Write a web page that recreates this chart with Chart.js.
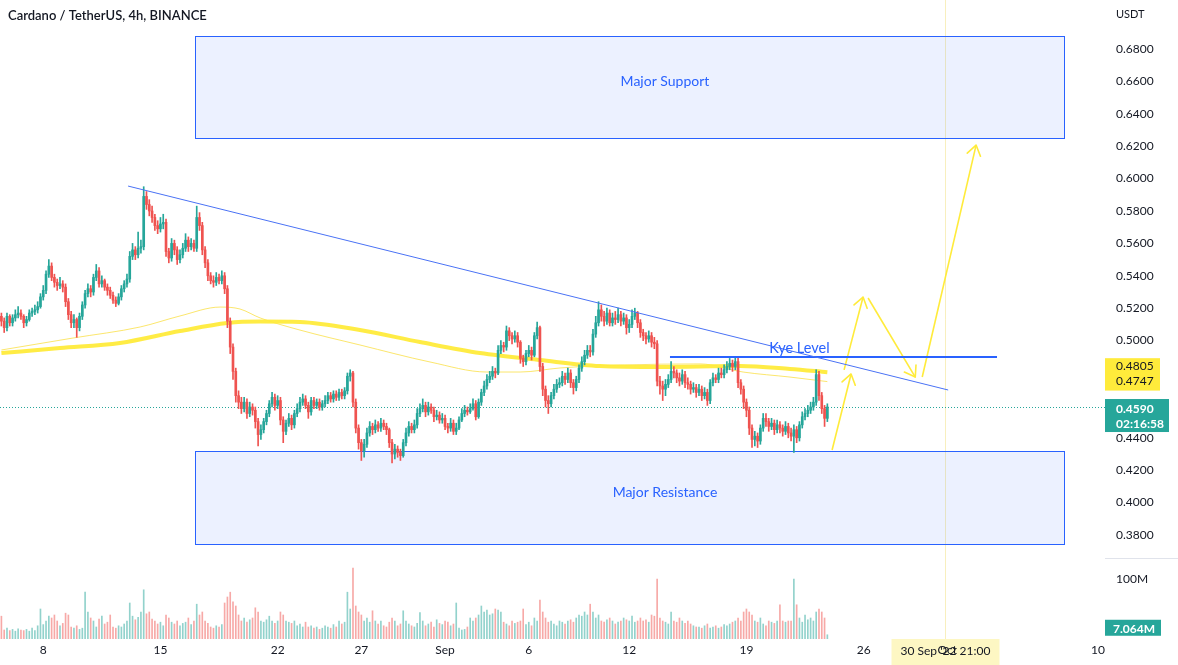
<!DOCTYPE html>
<html><head><meta charset="utf-8"><title>Cardano / TetherUS, 4h</title>
<script src="https://cdn.jsdelivr.net/npm/chart.js@4.4.1/dist/chart.umd.min.js"></script>
<style>
html,body{margin:0;padding:0;background:#ffffff;overflow:hidden}
#c{display:block}
</style></head><body>
<canvas id="c" width="1178" height="665"></canvas>
<script>
// ---------------- DATA ----------------
const firstOpen = 0.515;
const closes = [
.512,.508,.515,.511,.514,.516,.517,.515,.511,.513,
.517,.518,.519,.521,.527,.531,.541,.546,.539,.536,
.534,.535,.533,.524,.516,.511,.513,.508,.515,.522,
.529,.532,.530,.539,.543,.535,.537,.533,.531,.528,
.525,.523,.527,.532,.535,.538,.552,.556,.553,.557,
.558,.589,.584,.580,.576,.571,.569,.572,.573,.555,
.551,.560,.556,.550,.553,.557,.562,.558,.560,.557,
.576,.571,.556,.548,.540,.537,.536,.539,.537,.540,
.532,.512,.496,.481,.466,.462,.458,.462,.455,.459,
.457,.450,.442,.445,.450,.455,.461,.465,.460,.463,
.451,.444,.449,.452,.448,.455,.458,.462,.464,.460,
.456,.463,.460,.462,.459,.461,.463,.466,.464,.467,
.465,.468,.466,.469,.478,.480,.462,.446,.437,.432,
.436,.443,.447,.445,.448,.446,.449,.447,.445,.437,
.430,.433,.431,.429,.437,.443,.447,.445,.448,.455,
.458,.460,.456,.459,.457,.453,.454,.451,.452,.447,
.446,.449,.444,.446,.451,.455,.457,.456,.458,.461,
.453,.462,.468,.472,.476,.478,.481,.480,.494,.497,
.496,.506,.503,.501,.503,.499,.489,.487,.492,.494,
.491,.503,.508,.484,.470,.463,.461,.466,.470,.473,
.474,.478,.476,.480,.474,.471,.476,.483,.487,.491,
.494,.493,.504,.511,.519,.515,.512,.517,.511,.514,
.513,.516,.512,.514,.508,.510,.515,.517,.511,.505,
.503,.501,.503,.499,.498,.475,.472,.470,.473,.476,
.481,.480,.477,.475,.479,.474,.473,.470,.471,.468,
.470,.466,.468,.463,.474,.477,.476,.480,.479,.482,
.484,.486,.484,.487,.474,.470,.462,.457,.446,.439,
.441,.438,.446,.452,.450,.447,.449,.445,.448,.446,
.444,.447,.443,.441,.445,.440,.448,.453,.455,.457,
.459,.462,.479,.466,.458,.452,.459];
const highs = [
.517,.514,.517,.516,.516,.519,.521,.519,.516,.515,
.519,.520,.522,.524,.529,.534,.543,.550,.548,.541,
.538,.539,.537,.535,.526,.518,.516,.514,.517,.524,
.531,.535,.534,.541,.547,.545,.540,.538,.535,.533,
.530,.527,.529,.534,.537,.541,.555,.560,.558,.567,
.562,.595,.592,.587,.583,.578,.574,.576,.578,.575,
.557,.563,.562,.558,.556,.560,.566,.564,.563,.562,
.583,.579,.573,.558,.550,.542,.540,.542,.541,.543,
.542,.534,.514,.498,.483,.469,.465,.465,.464,.462,
.461,.459,.452,.448,.452,.457,.463,.468,.467,.466,
.465,.453,.451,.455,.454,.457,.461,.465,.467,.466,
.462,.465,.465,.464,.464,.463,.466,.468,.468,.469,
.469,.470,.470,.471,.480,.482,.481,.464,.448,.439,
.439,.446,.450,.449,.451,.450,.452,.451,.449,.446,
.439,.436,.435,.433,.439,.446,.450,.449,.451,.458,
.461,.464,.462,.462,.461,.459,.457,.456,.455,.454,
.449,.452,.451,.449,.453,.458,.460,.459,.461,.464,
.463,.464,.470,.475,.479,.481,.484,.483,.497,.500,
.499,.509,.508,.505,.506,.505,.500,.491,.494,.497,
.496,.505,.5115,.509,.486,.472,.466,.468,.473,.476,
.477,.481,.480,.483,.482,.476,.478,.485,.490,.494,
.497,.497,.507,.515,.524,.522,.518,.520,.519,.517,
.518,.520,.518,.517,.516,.513,.519,.520,.518,.513,
.507,.505,.506,.505,.502,.500,.478,.475,.476,.479,
.487,.484,.482,.480,.482,.481,.477,.475,.474,.473,
.473,.472,.471,.470,.476,.480,.479,.483,.483,.485,
.487,.489,.488,.490,.489,.476,.472,.464,.459,.448,
.444,.443,.448,.455,.455,.452,.452,.451,.451,.450,
.448,.450,.449,.446,.448,.447,.450,.456,.458,.460,
.462,.465,.482,.481,.468,.460,.461];
const lows = [
.509,.505,.506,.509,.509,.512,.514,.513,.508,.509,
.512,.515,.516,.517,.520,.525,.529,.539,.537,.533,
.531,.532,.530,.521,.513,.508,.508,.502,.506,.513,
.520,.527,.527,.528,.537,.533,.533,.531,.528,.526,
.523,.521,.522,.525,.530,.533,.536,.550,.550,.551,
.554,.556,.581,.577,.573,.568,.566,.567,.569,.552,
.548,.549,.553,.547,.548,.551,.555,.555,.556,.555,
.555,.568,.553,.545,.537,.535,.533,.534,.535,.535,
.529,.508,.492,.476,.462,.458,.455,.456,.452,.453,
.454,.446,.435,.439,.443,.448,.453,.459,.457,.458,
.448,.437,.442,.447,.445,.446,.453,.456,.460,.458,
.452,.454,.458,.458,.457,.457,.459,.461,.462,.462,
.463,.463,.464,.464,.467,.475,.459,.443,.433,.426,
.428,.434,.441,.442,.443,.444,.444,.445,.442,.434,
.4245,.427,.428,.426,.428,.435,.441,.443,.443,.446,
.453,.456,.453,.454,.455,.450,.451,.449,.449,.445,
.443,.444,.442,.442,.445,.450,.453,.454,.455,.457,
.451,.452,.460,.466,.470,.474,.476,.477,.479,.492,
.493,.494,.500,.498,.499,.496,.486,.484,.485,.490,
.488,.490,.501,.481,.466,.459,.455,.459,.464,.468,
.471,.472,.473,.474,.471,.467,.469,.474,.481,.485,
.489,.490,.491,.502,.509,.512,.509,.510,.509,.509,
.510,.511,.509,.510,.504,.505,.508,.513,.508,.502,
.500,.498,.499,.496,.495,.472,.467,.463,.466,.471,
.474,.477,.474,.472,.473,.471,.470,.467,.468,.465,
.466,.463,.464,.460,.461,.472,.474,.474,.477,.477,
.480,.482,.481,.482,.471,.467,.458,.453,.442,.434,
.435,.434,.436,.444,.447,.444,.445,.442,.443,.443,
.441,.442,.440,.438,.431,.437,.438,.446,.451,.453,
.455,.457,.460,.463,.455,.447,.450];
// volume, millions
const volumes = [
38,15,18,14,16,13,17,15,14,16,
13,18,14,22,50,24,30,38,35,40,
30,22,26,43,40,20,18,22,16,18,
78,45,35,30,20,33,38,25,28,40,
20,18,22,20,25,30,60,38,32,36,
45,82,42,45,33,30,25,28,22,40,
35,28,25,30,22,26,28,35,24,30,
58,40,45,30,26,20,18,22,20,24,
60,70,78,62,55,40,30,35,28,32,
35,52,45,30,28,32,38,30,26,30,
45,40,30,28,26,30,22,25,20,28,
20,22,18,20,16,18,22,20,18,24,
20,30,25,28,78,50,118,55,45,40,
30,35,28,47,30,25,30,22,20,28,
35,30,22,25,47,30,25,22,20,26,
44,30,22,25,28,20,32,26,24,30,
28,22,25,60,18,15,16,20,35,30,
35,40,55,45,48,40,42,50,48,45,
28,25,22,30,26,28,30,50,24,28,
22,35,30,65,45,35,28,30,25,22,
30,28,25,30,32,28,35,40,38,45,
40,58,45,35,40,30,28,32,35,30,
25,28,30,35,32,30,38,28,30,35,
30,32,28,40,38,100,35,30,28,25,
45,30,28,35,30,26,30,25,22,20,
20,18,22,25,18,20,22,18,20,24,
22,25,28,30,35,30,45,50,45,40,
30,28,35,25,22,30,28,26,30,57,
30,28,30,30,100,57,35,28,40,32,
35,30,45,50,45,35,7.064];
// moving averages sampled at candle positions
const maSlowIdx = [0, 21, 42.5, 64, 81, 92.7, 107, 128.5, 150, 171.5, 193, 214.5, 236, 264.7, 282.6, 296];
const maSlowVal = [0.4923, 0.4954, 0.4985, 0.5059, 0.5109, 0.5118, 0.5115, 0.5065, 0.4991, 0.4923, 0.4880, 0.4843, 0.4837, 0.4843, 0.4825, 0.4805];
const maFastIdx = [0, 25.7, 49.7, 64, 78.4, 85.5, 92.7, 107, 128.5, 153.6, 174, 185.9, 200.2, 221.7, 250.4, 265.8, 282.6, 296];
const maFastVal = [0.4942, 0.5016, 0.5084, 0.5152, 0.5207, 0.5195, 0.5140, 0.5065, 0.4973, 0.4868, 0.4806, 0.4806, 0.4831, 0.4849, 0.4856, 0.4806, 0.4775, 0.4747];
// time axis
const totalSlots = 396;
const tickIdx = [15, 57, 99, 129, 159, 189, 225, 267, 309, 339, 393];
const tickText = ['8', '15', '22', '27', 'Sep', '6', '12', '19', '26', 'Oct', '10'];
const priceTicks = [0.38, 0.40, 0.42, 0.44, 0.46, 0.48, 0.50, 0.52, 0.54, 0.56, 0.58, 0.60, 0.62, 0.64, 0.66, 0.68];
// drawings
const zoneIdx = [69.4, 380.8];
const supportZone = [0.6251, 0.6880];
const resistanceZone = [0.3744, 0.4319];
const zoneLabelIdx = 237.8;
const zoneLabelPrice = [0.6602, 0.4065];
const trendIdx = [45.4, 339.3];
const trendPrice = [0.5954, 0.4695];
const kyeIdx = [239.6, 356.8];
const kyePrice = 0.4899;
const kyeLabelIdx = 286;
const arrowStartIdx = [297.7, 302.0, 310.6, 330.0];
const arrowStartPrice = [0.4325, 0.4819, 0.5263, 0.4775];
const arrowEndIdx = [304.5, 308.8, 327.5, 349.3];
const arrowEndPrice = [0.4794, 0.5269, 0.4775, 0.6207];
const crosshairIdx = 338.25;
const crosshairText = "30 Sep '22 21:00";
const maSlowLast = 0.4805, maFastLast = 0.4747;
const countdown = '02:16:58';

// ---------------- CHART ----------------
const UP = '#26a69a', DOWN = '#ef5350';
const UPV = 'rgba(38,166,154,0.5)', DOWNV = 'rgba(239,83,80,0.5)';
const FAM = 'Lato, "Open Sans", "DejaVu Sans", sans-serif';
const TXT = '#131722';
const BLUE = '#2962ff';
const YEL = '#ffeb3b';

const idx = closes.map((_, i) => i);
const opens = closes.map((c, i) => i === 0 ? firstOpen : closes[i - 1]);
const upFlag = closes.map((c, i) => c >= opens[i]);
const lastClose = closes[closes.length - 1];

function zeroPad(s) { s.paddingTop = 0; s.paddingBottom = 0; }

function arrowHead(ctx, x0, y0, x1, y1) {
  const a = Math.atan2(y1 - y0, x1 - x0), L = 12, w = 0.6;
  ctx.beginPath();
  ctx.moveTo(x1 - L * Math.cos(a - w), y1 - L * Math.sin(a - w));
  ctx.lineTo(x1, y1);
  ctx.lineTo(x1 - L * Math.cos(a + w), y1 - L * Math.sin(a + w));
  ctx.stroke();
}

const drawings = {
  id: 'drawings',
  beforeDraw(chart) {
    const {ctx, chartArea: a, scales: {x}} = chart;
    const cx = Math.round(x.getPixelForValue(crosshairIdx)) + 0.5;
    ctx.save();
    ctx.strokeStyle = 'rgba(240,220,110,0.45)';
    ctx.lineWidth = 1;
    ctx.beginPath(); ctx.moveTo(cx, 0); ctx.lineTo(cx, a.bottom); ctx.stroke();
    ctx.fillStyle = '#fdf7c3';
    ctx.fillRect(cx - 54, a.bottom, 108, chart.height - a.bottom);
    ctx.fillStyle = TXT;
    ctx.font = '12px ' + FAM;
    ctx.textAlign = 'center'; ctx.textBaseline = 'middle';
    ctx.fillText(crosshairText, cx, a.bottom + 12);
    ctx.restore();
  },
  beforeDatasetsDraw(chart) {
    const {ctx, chartArea: a, scales: {x, y}} = chart;
    ctx.save();
    // zones
    [[supportZone, 'Major Support', zoneLabelPrice[0]], [resistanceZone, 'Major Resistance', zoneLabelPrice[1]]].forEach(([z, label, lp]) => {
      const x0 = Math.round(x.getPixelForValue(zoneIdx[0])) + 0.5, x1 = Math.round(x.getPixelForValue(zoneIdx[1])) + 0.5;
      const y0 = Math.round(y.getPixelForValue(z[1])) + 0.5, y1 = Math.round(y.getPixelForValue(z[0])) + 0.5;
      ctx.fillStyle = 'rgba(41,98,255,0.09)';
      ctx.fillRect(x0, y0, x1 - x0, y1 - y0);
      ctx.strokeStyle = BLUE; ctx.lineWidth = 1;
      ctx.strokeRect(x0, y0, x1 - x0, y1 - y0);
      ctx.fillStyle = BLUE;
      ctx.font = '14px ' + FAM;
      ctx.textAlign = 'center'; ctx.textBaseline = 'middle';
      ctx.fillText(label, x.getPixelForValue(zoneLabelIdx), y.getPixelForValue(lp));
    });
    // current price dotted line
    const py = Math.round(y.getPixelForValue(lastClose)) + 0.5;
    ctx.strokeStyle = UP; ctx.setLineDash([1, 2]);
    ctx.beginPath(); ctx.moveTo(0, py); ctx.lineTo(a.right, py); ctx.stroke();
    ctx.restore();
  },
  afterDatasetsDraw(chart) {
    const {ctx, scales: {x, y}} = chart;
    ctx.save();
    ctx.strokeStyle = YEL; ctx.lineWidth = 1.6; ctx.lineCap = 'round'; ctx.lineJoin = 'round';
    for (let k = 0; k < arrowEndIdx.length; k++) {
      arrowHead(ctx, x.getPixelForValue(arrowStartIdx[k]), y.getPixelForValue(arrowStartPrice[k]),
        x.getPixelForValue(arrowEndIdx[k]), y.getPixelForValue(arrowEndPrice[k]));
    }
    // Kye Level text
    ctx.fillStyle = BLUE;
    ctx.font = '14.5px ' + FAM;
    ctx.textAlign = 'center'; ctx.textBaseline = 'bottom';
    ctx.fillText('Kye Level', x.getPixelForValue(kyeLabelIdx), y.getPixelForValue(kyePrice) - 1);
    ctx.restore();
  },
  afterDraw(chart) {
    const {ctx, chartArea: a, scales: {y, yv}} = chart;
    ctx.save();
    // title
    ctx.fillStyle = TXT; ctx.font = '600 13px ' + FAM;
    ctx.textAlign = 'left'; ctx.textBaseline = 'middle';
    ctx.fillText('Cardano / TetherUS, 4h, BINANCE', 8, 16);
    // currency
    ctx.font = '11px ' + FAM;
    ctx.fillText('USDT', a.right + 11, 14);
    // MA labels
    const ly1 = y.getPixelForValue(maSlowLast) - 6, ly2 = y.getPixelForValue(maFastLast);
    ctx.fillStyle = YEL;
    ctx.fillRect(a.right, ly1 - 8, 55, ly2 - ly1 + 17);
    ctx.fillStyle = TXT; ctx.font = '12px ' + FAM;
    ctx.fillText(maSlowLast.toFixed(4), a.right + 11, ly1);
    ctx.fillText(maFastLast.toFixed(4), a.right + 11, ly2);
    // last price label
    const lp = y.getPixelForValue(lastClose);
    ctx.fillStyle = UP;
    ctx.fillRect(a.right, lp - 8, 64, 33);
    ctx.fillStyle = '#ffffff'; ctx.font = 'bold 12px ' + FAM;
    ctx.fillText(lastClose.toFixed(4), a.right + 11, lp + 2);
    ctx.fillText(countdown, a.right + 11, lp + 17);
    // last volume label
    const lv = yv.getPixelForValue(volumes[volumes.length - 1]);
    ctx.beginPath(); ctx.rect(a.right, 0, 80, a.bottom); ctx.clip();
    ctx.fillStyle = UP;
    ctx.fillRect(a.right, lv - 15, 56, 16);
    ctx.fillStyle = '#ffffff';
    ctx.fillText(volumes[volumes.length - 1].toFixed(3) + 'M', a.right + 8, lv - 6);
    ctx.restore();
    // pane separator
    ctx.save();
    ctx.strokeStyle = '#e0e3eb'; ctx.lineWidth = 1;
    const sep = Math.round(y.bottom) + 0.5;
    ctx.beginPath(); ctx.moveTo(a.right, sep); ctx.lineTo(chart.width, sep); ctx.stroke();
    ctx.restore();
  }
};

const datasets = [
  {
    type: 'bar', label: 'wick', yAxisID: 'y', order: 2, grouped: false, barThickness: 1,
    data: idx.map(i => ({x: i, y: [lows[i], highs[i]]})),
    backgroundColor: idx.map(i => upFlag[i] ? UP : DOWN)
  },
  {
    type: 'bar', label: 'body', yAxisID: 'y', order: 1, grouped: false, barThickness: 2, minBarLength: 1,
    data: idx.map(i => ({x: i, y: [opens[i], closes[i]]})),
    backgroundColor: idx.map(i => upFlag[i] ? UP : DOWN)
  },
  {
    type: 'bar', label: 'volume', yAxisID: 'yv', order: 3, grouped: false, barThickness: 1,
    data: idx.map(i => ({x: i, y: volumes[i]})),
    backgroundColor: idx.map(i => upFlag[i] ? UPV : DOWNV)
  },
  {
    type: 'line', label: 'MA slow', yAxisID: 'y', order: 5,
    data: maSlowIdx.map((v, k) => ({x: v, y: maSlowVal[k]})),
    borderColor: 'rgba(255,235,59,0.95)', borderWidth: 4, pointRadius: 0, cubicInterpolationMode: 'monotone', fill: false
  },
  {
    type: 'line', label: 'MA fast', yAxisID: 'y', order: 6,
    data: maFastIdx.map((v, k) => ({x: v, y: maFastVal[k]})),
    borderColor: 'rgba(250,222,60,0.75)', borderWidth: 1, pointRadius: 0, cubicInterpolationMode: 'monotone', fill: false
  },
  {
    type: 'line', label: 'trend', yAxisID: 'y', order: 0,
    data: trendIdx.map((v, k) => ({x: v, y: trendPrice[k]})),
    borderColor: '#4a72f5', borderWidth: 1, pointRadius: 0, fill: false
  },
  {
    type: 'line', label: 'kye', yAxisID: 'y', order: 0,
    data: kyeIdx.map(v => ({x: v, y: kyePrice})),
    borderColor: BLUE, borderWidth: 2, pointRadius: 0, fill: false
  }
];
arrowEndIdx.forEach((e, k) => {
  datasets.push({
    type: 'line', label: 'arrow' + k, yAxisID: 'y', order: 0,
    data: [{x: arrowStartIdx[k], y: arrowStartPrice[k]}, {x: e, y: arrowEndPrice[k]}],
    borderColor: YEL, borderWidth: 1.6, pointRadius: 0, fill: false
  });
});

new Chart(document.getElementById('c'), {
  type: 'bar',
  data: {datasets},
  plugins: [drawings],
  options: {
    responsive: false, animation: false, devicePixelRatio: 1,
    layout: {padding: 0},
    plugins: {legend: {display: false}, tooltip: {enabled: false}},
    scales: {
      x: {
        type: 'linear', min: -0.5, max: totalSlots - 0.5, offset: false,
        grid: {display: false, drawTicks: false}, border: {display: false},
        afterBuildTicks: s => { s.ticks = tickIdx.map(v => ({value: v})); },
        ticks: {autoSkip: false, maxRotation: 0, minRotation: 0, padding: 4, color: TXT,
          font: {family: FAM, size: 12}, callback: (v, i) => tickText[i]},
        afterFit: s => { s.height = 26; s.paddingLeft = 0; s.paddingRight = 0; }
      },
      y: {
        type: 'linear', position: 'right', stack: 'right', stackWeight: 558,
        min: 0.3658, max: 0.71025,
        grid: {display: false, drawTicks: false}, border: {display: false},
        afterBuildTicks: s => { s.ticks = priceTicks.map(v => ({value: v})); },
        ticks: {padding: 11, color: TXT, font: {family: FAM, size: 12}, callback: v => v.toFixed(4)},
        afterFit: s => { s.width = 73; zeroPad(s); }
      },
      yv: {
        type: 'linear', position: 'right', stack: 'right', stackWeight: 81,
        min: 0, max: 135,
        grid: {display: false, drawTicks: false}, border: {display: false},
        afterBuildTicks: s => { s.ticks = [{value: 100}]; },
        ticks: {padding: 11, color: TXT, font: {family: FAM, size: 12}, callback: v => v + 'M'},
        afterFit: s => { s.width = 73; zeroPad(s); }
      }
    }
  }
});
</script>
</body></html>
